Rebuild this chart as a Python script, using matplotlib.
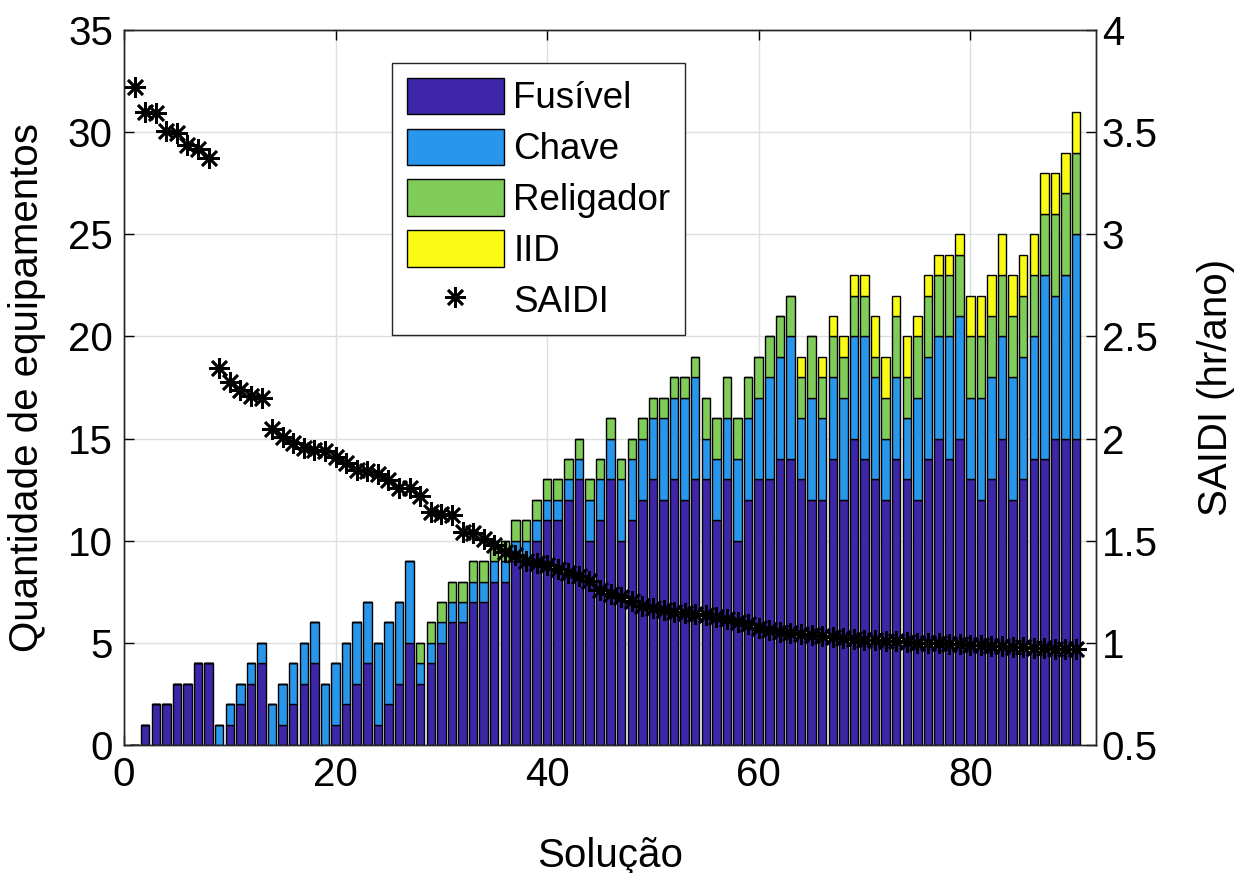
import matplotlib
matplotlib.use('Agg')
import matplotlib.pyplot as plt
import numpy as np
from matplotlib.ticker import FormatStrFormatter

plt.rcParams['font.family'] = ['Liberation Sans', 'DejaVu Sans']

# quantidade de cada equipamento por solução (incrementos, empilhados)
fusivel = [0, 1, 2, 2, 3, 3, 4, 4, 0, 1,
           2, 3, 4, 0, 1, 2, 3, 4, 0, 1,
           2, 3, 4, 1, 2, 3, 5, 3, 4, 5,
           6, 6, 7, 7, 8, 8, 9, 9, 10, 11,
           11, 12, 13, 10, 11, 13, 10, 11, 12, 13,
           12, 13, 12, 13, 13, 11, 13, 10, 12, 13,
           13, 14, 14, 13, 12, 12, 14, 12, 15, 14,
           13, 12, 14, 13, 12, 14, 15, 14, 15, 13,
           12, 13, 15, 12, 13, 14, 14, 15, 15, 15]
chave = [0, 0, 0, 0, 0, 0, 0, 0, 1, 1,
         1, 1, 1, 2, 2, 2, 2, 2, 3, 3,
         3, 3, 3, 4, 4, 4, 4, 1, 1, 1,
         1, 1, 1, 1, 1, 1, 1, 1, 1, 1,
         1, 1, 1, 2, 2, 2, 3, 3, 3, 3,
         4, 4, 5, 5, 2, 3, 3, 4, 4, 4,
         5, 5, 6, 3, 5, 4, 4, 5, 5, 6,
         5, 3, 4, 3, 5, 5, 5, 6, 6, 4,
         5, 5, 5, 6, 6, 6, 9, 7, 8, 10]
religador = [0, 0, 0, 0, 0, 0, 0, 0, 0, 0,
             0, 0, 0, 0, 0, 0, 0, 0, 0, 0,
             0, 0, 0, 0, 0, 0, 0, 1, 1, 1,
             1, 1, 1, 1, 1, 1, 1, 1, 1, 1,
             1, 1, 1, 1, 1, 1, 1, 1, 1, 1,
             1, 1, 1, 1, 2, 2, 2, 2, 2, 2,
             2, 2, 2, 2, 3, 2, 2, 2, 2, 2,
             1, 2, 3, 2, 3, 3, 3, 3, 3, 3,
             3, 3, 3, 3, 3, 3, 3, 4, 4, 4]
iid = [0, 0, 0, 0, 0, 0, 0, 0, 0, 0,
       0, 0, 0, 0, 0, 0, 0, 0, 0, 0,
       0, 0, 0, 0, 0, 0, 0, 0, 0, 0,
       0, 0, 0, 0, 0, 0, 0, 0, 0, 0,
       0, 0, 0, 0, 0, 0, 0, 0, 0, 0,
       0, 0, 0, 0, 0, 0, 0, 0, 0, 0,
       0, 0, 0, 1, 0, 1, 1, 1, 1, 1,
       2, 2, 1, 2, 1, 1, 1, 1, 1, 2,
       2, 2, 2, 2, 2, 2, 2, 2, 2, 2]

saidi = [3.72, 3.60, 3.595, 3.505, 3.495, 3.435, 3.42, 3.375, 2.345, 2.275,
         2.24, 2.21, 2.20, 2.045, 2.01, 1.98, 1.955, 1.945, 1.94, 1.91,
         1.88, 1.845, 1.84, 1.825, 1.795, 1.76, 1.76, 1.72, 1.64, 1.63,
         1.625, 1.545, 1.54, 1.51, 1.48, 1.445, 1.43, 1.40, 1.39, 1.38,
         1.36, 1.34, 1.325, 1.305, 1.26, 1.24, 1.225, 1.205, 1.18, 1.17,
         1.16, 1.15, 1.145, 1.14, 1.135, 1.125, 1.115, 1.10, 1.09, 1.075,
         1.065, 1.055, 1.05, 1.045, 1.04, 1.035, 1.03, 1.025, 1.02, 1.015,
         1.013, 1.01, 1.007, 1.003, 1.0, 0.998, 0.997, 0.995, 0.993, 0.99,
         0.988, 0.986, 0.983, 0.98, 0.978, 0.976, 0.974, 0.972, 0.97, 0.968]

series = [('Fusível', fusivel, '#3e26a8'),
          ('Chave', chave, '#2796eb'),
          ('Religador', religador, '#80cc59'),
          ('IID', iid, '#f9fb15')]

solucao = np.arange(1, len(fusivel) + 1)

fig = plt.figure(figsize=(12.4, 8.73), dpi=100)
ax = fig.add_axes([0.1, 0.1466, 0.784, 0.819])

bottom = np.zeros(len(solucao))
handles = []
for name, vals, color in series:
    vals = np.array(vals, dtype=float)
    bars = ax.bar(solucao, vals, width=0.8, bottom=bottom, color=color,
                  edgecolor='k', linewidth=1.0, label=name, zorder=2)
    handles.append(bars)
    bottom += vals

ax.set_xlim(0, 91.9)
ax.set_ylim(0, 35)
ax.set_xticks([0, 20, 40, 60, 80])
ax.set_yticks(np.arange(0, 36, 5))
ax.grid(True, color='#dedede', linewidth=1.0)
ax.set_axisbelow(True)
ax.tick_params(direction='in', length=7, width=1, labelsize=29, top=True,
               pad=8)
ax.set_xlabel('Solução', fontsize=29, labelpad=31)
ax.set_ylabel('Quantidade de equipamentos', fontsize=29, labelpad=16)

ax2 = ax.twinx()
ax2.set_ylim(0.5, 4)
ax2.set_yticks(np.arange(0.5, 4.01, 0.5))
ax2.yaxis.set_major_formatter(FormatStrFormatter('%g'))
ax2.tick_params(direction='in', length=7, width=1, labelsize=29, pad=4)
line, = ax2.plot(solucao, saidi, linestyle='none', marker=(8, 2, 0),
                 markersize=15, markeredgewidth=1.9, color='k', label='SAIDI')
ax2.set_ylabel('SAIDI (hr/ano)', fontsize=29, labelpad=28)
handles.append(line)

for a in (ax, ax2):
    for s in a.spines.values():
        s.set_linewidth(1.0)
        s.set_color('#262626')

leg = ax2.legend(handles=handles, labels=[h.get_label() for h in handles],
                 loc='upper left', bbox_to_anchor=(392 / 1240, 1 - 63 / 873),
                 bbox_transform=fig.transFigure, borderaxespad=0,
                 fontsize=26.5, fancybox=False, framealpha=1, edgecolor='#262626',
                 handlelength=2.65, handleheight=1.15, labelspacing=0.33,
                 handletextpad=0.25, borderpad=0.4)
leg.get_frame().set_linewidth(1.0)

fig.savefig('out.png', dpi=100)
